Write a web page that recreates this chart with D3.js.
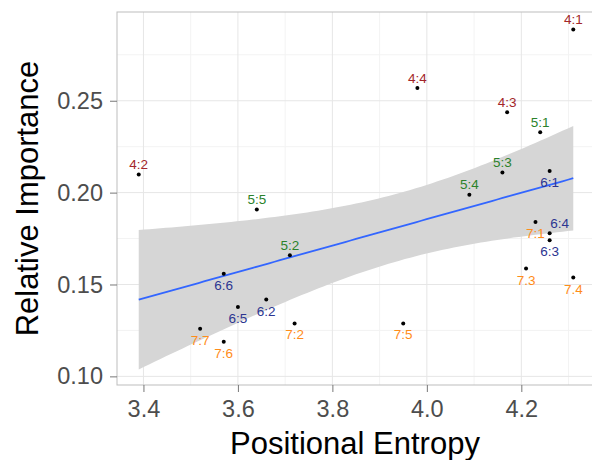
<!DOCTYPE html>
<html>
<head>
<meta charset="utf-8">
<script src="https://cdn.jsdelivr.net/npm/d3@7"></script>
<style>
  body { margin: 0; background: #fff; }
  svg { display: block; font-family: "Liberation Sans", Arial, sans-serif; }
</style>
</head>
<body>
<div id="chart"></div>
<script>
// data
const labels = ["4:1", "4:2", "4:3", "4:4", "5:1", "5:2", "5:3", "5:4", "5:5",
  "6:1", "6:2", "6:3", "6:4", "6:5", "6:6",
  "7:1", "7:2", "7:3", "7:4", "7:5", "7:6", "7:7"];
const entropy = [4.31, 3.39, 4.17, 3.98, 4.24, 3.71, 4.16, 4.09, 3.64,
  4.26, 3.66, 4.26, 4.26, 3.60, 3.57,
  4.23, 3.72, 4.21, 4.31, 3.95, 3.57, 3.52];
const importance = [0.2888, 0.2099, 0.2438, 0.2569, 0.2328, 0.1659, 0.2109, 0.1989, 0.1908,
  0.2117, 0.1418, 0.1741, 0.1779, 0.1378, 0.1558,
  0.1840, 0.1288, 0.1587, 0.1538, 0.1288, 0.1188, 0.1259];
// the 7:3 and 7:4 labels use a dot in the original
const shownText = { "7:3": "7.3", "7:4": "7.4" };
const xTicks = [3.4, 3.6, 3.8, 4.0, 4.2];
const yTicks = [0.10, 0.15, 0.20, 0.25];

const groupColor = { "4": "#a3262a", "5": "#2b822b", "6": "#2c3591", "7": "#ff8c1a" };
const sideOverride = { "6:4": "right" };

const width = 592, height = 460;
const margin = { top: 12, left: 117, bottom: 75, right: -3 };
const iw = width - margin.left - margin.right;
const ih = height - margin.top - margin.bottom;

const pts = labels.map((l, i) => ({ l, x: entropy[i], y: importance[i], g: l[0] }));

// linear fit + 95% band (like geom_smooth(method = "lm"))
const n = pts.length;
const mx = d3.mean(pts, d => d.x), my = d3.mean(pts, d => d.y);
const sxx = d3.sum(pts, d => (d.x - mx) ** 2);
const slope = d3.sum(pts, d => (d.x - mx) * (d.y - my)) / sxx;
const icpt = my - slope * mx;
const s = Math.sqrt(d3.sum(pts, d => (d.y - icpt - slope * d.x) ** 2) / (n - 2));
const tq = 2.086; // t(0.975, df = 20)
const [xmin, xmax] = d3.extent(pts, d => d.x);
const fit = d3.range(0, 81).map(k => {
  const x = xmin + (xmax - xmin) * k / 80;
  const yh = icpt + slope * x;
  const se = s * Math.sqrt(1 / n + (x - mx) ** 2 / sxx);
  return { x, y: yh, lo: yh - tq * se, hi: yh + tq * se };
});

const x = d3.scaleLinear().domain([3.344, 4.356]).range([0, iw]);
const y = d3.scaleLinear().domain([0.0953, 0.2983]).range([ih, 0]);

const svg = d3.select("#chart").append("svg")
  .attr("width", width).attr("height", height);

const g = svg.append("g").attr("transform", `translate(${margin.left},${margin.top})`);

// grid
const minorX = [3.5, 3.7, 3.9, 4.1, 4.3];
const minorY = [0.125, 0.175, 0.225, 0.275];
g.selectAll(".mx").data(minorX).enter().append("line")
  .attr("x1", d => x(d)).attr("x2", d => x(d)).attr("y1", 0).attr("y2", ih)
  .attr("stroke", "#f3f3f3");
g.selectAll(".my").data(minorY).enter().append("line")
  .attr("y1", d => y(d)).attr("y2", d => y(d)).attr("x1", 0).attr("x2", iw)
  .attr("stroke", "#f3f3f3");
g.selectAll(".gx").data(xTicks).enter().append("line")
  .attr("x1", d => x(d)).attr("x2", d => x(d)).attr("y1", 0).attr("y2", ih)
  .attr("stroke", "#e6e6e6");
g.selectAll(".gy").data(yTicks).enter().append("line")
  .attr("y1", d => y(d)).attr("y2", d => y(d)).attr("x1", 0).attr("x2", iw)
  .attr("stroke", "#e6e6e6");

// ribbon + line
g.append("path").datum(fit)
  .attr("fill", "#d6d6d6")
  .attr("d", d3.area().x(d => x(d.x)).y0(d => y(d.lo)).y1(d => y(d.hi)));
g.append("path").datum(fit)
  .attr("fill", "none").attr("stroke", "#3366ff").attr("stroke-width", 1.8)
  .attr("d", d3.line().x(d => x(d.x)).y(d => y(d.y)));

// points
g.selectAll(".pt").data(pts).enter().append("circle")
  .attr("cx", d => x(d.x)).attr("cy", d => y(d.y)).attr("r", 2)
  .attr("fill", "#000");

// labels
g.selectAll(".lab").data(pts).enter().append("text")
  .attr("x", d => x(d.x) + (sideOverride[d.l] === "right" ? 10 : 0))
  .attr("y", d => {
    const side = sideOverride[d.l] || (d.g === "4" || d.g === "5" ? "above" : "below");
    return y(d.y) + (side === "below" ? 16 : -5.5);
  })
  .attr("text-anchor", "middle")
  .attr("font-size", 13.5)
  .attr("fill", d => groupColor[d.g])
  .text(d => shownText[d.l] || d.l);

// panel border
g.append("rect").attr("width", iw).attr("height", ih)
  .attr("fill", "none").attr("stroke", "#bdbdbd");

// axes
const xa = g.append("g").attr("transform", `translate(0,${ih})`)
  .call(d3.axisBottom(x).tickValues(xTicks).tickFormat(d3.format(".1f")).tickSize(7).tickPadding(8));
const ya = g.append("g")
  .call(d3.axisLeft(y).tickValues(yTicks).tickFormat(d3.format(".2f")).tickSize(7).tickPadding(7));
[xa, ya].forEach(a => {
  a.select(".domain").remove();
  a.selectAll("line").attr("stroke", "#777");
  a.selectAll("text").attr("fill", "#4d4d4d").attr("font-size", 23.5)
    .attr("font-family", "Liberation Sans, Arial, sans-serif");
});

svg.append("text")
  .attr("x", margin.left + iw / 2 - 1).attr("y", 454)
  .attr("text-anchor", "middle").attr("font-size", 31).attr("fill", "#000")
  .text("Positional Entropy");
svg.append("text")
  .attr("transform", `translate(38,${margin.top + ih / 2}) rotate(-90)`)
  .attr("text-anchor", "middle").attr("font-size", 31).attr("fill", "#000")
  .text("Relative Importance");
</script>
</body>
</html>
